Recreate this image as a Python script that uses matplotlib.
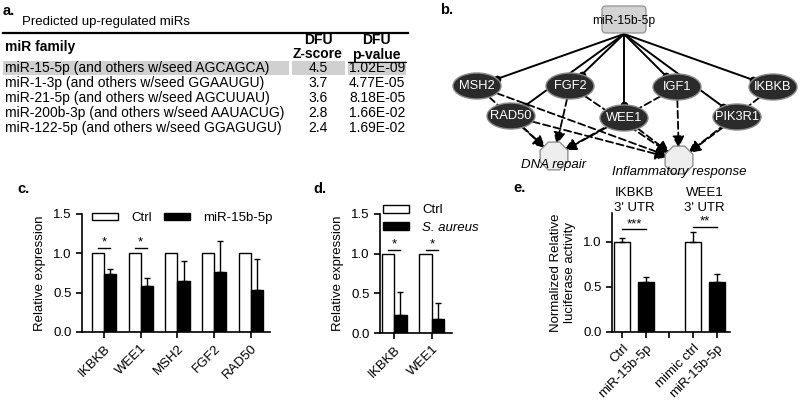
import numpy as np
import matplotlib
matplotlib.use("Agg")
import matplotlib.pyplot as plt
from matplotlib.patches import Ellipse, FancyBboxPatch, RegularPolygon, Rectangle, FancyArrowPatch

plt.rcParams['font.family'] = ['Liberation Sans', 'DejaVu Sans']

# panel a: table
mir_families = ['miR-15-5p (and others w/seed AGCAGCA)',
                'miR-1-3p (and others w/seed GGAAUGU)',
                'miR-21-5p (and others w/seed AGCUUAU)',
                'miR-200b-3p (and others w/seed AAUACUG)',
                'miR-122-5p (and others w/seed GGAGUGU)']
z_scores = ['4.5', '3.7', '3.6', '2.8', '2.4']
p_values = ['1.02E-09', '4.77E-05', '8.18E-05', '1.66E-02', '1.69E-02']

# panel b: network
mirna = 'miR-15b-5p'
targets = ['MSH2', 'FGF2', 'IGF1', 'IKBKB', 'RAD50', 'WEE1', 'PIK3R1']
processes = ['DNA repair', 'Inflammatory response']
edges = [('MSH2', 'DNA repair'), ('MSH2', 'Inflammatory response'),
         ('RAD50', 'DNA repair'), ('RAD50', 'Inflammatory response'),
         ('FGF2', 'DNA repair'), ('FGF2', 'Inflammatory response'),
         ('WEE1', 'DNA repair'), ('WEE1', 'Inflammatory response'),
         ('IGF1', 'DNA repair'), ('IGF1', 'Inflammatory response'),
         ('PIK3R1', 'Inflammatory response'), ('IKBKB', 'Inflammatory response')]

# panel c
c_genes = ['IKBKB', 'WEE1', 'MSH2', 'FGF2', 'RAD50']
c_ctrl = [1.0, 1.0, 1.0, 1.0, 1.0]
c_mir = [0.74, 0.59, 0.65, 0.76, 0.53]
c_mir_err = [0.06, 0.10, 0.25, 0.40, 0.40]
c_sig = ['*', '*', '', '', '']

# panel d
d_genes = ['IKBKB', 'WEE1']
d_ctrl = [1.0, 1.0]
d_aureus = [0.23, 0.18]
d_aureus_err = [0.29, 0.20]
d_sig = ['*', '*']

# panel e
e_labels = ['Ctrl', 'miR-15b-5p', '', 'mimic ctrl', 'miR-15b-5p']
e_values = [1.0, 0.56, np.nan, 1.0, 0.55]
e_err = [0.04, 0.05, np.nan, 0.11, 0.09]
e_is_ctrl = [True, False, False, True, False]
e_titles = ["IKBKB\n3' UTR", "WEE1\n3' UTR"]
e_sig = ['***', '**']

W, H = 800, 400
fig = plt.figure(figsize=(8, 4), dpi=100)
FS = 9.5


def fax(x0, y0, x1, y1):
    # axes from pixel box (top-left origin)
    return fig.add_axes([x0 / W, 1 - y1 / H, (x1 - x0) / W, (y1 - y0) / H])


# ---------- top half (table + network) in pixel coords ----------
top = fax(0, 0, 800, 185)
top.set_xlim(0, 800)
top.set_ylim(185, 0)
top.axis('off')

top.text(3, 11, 'a.', fontsize=10.5, fontweight='bold', va='center')
top.text(22, 22, 'Predicted up-regulated miRs', fontsize=FS, va='center')
top.plot([3, 408], [33, 33], color='black', lw=1.6)
top.text(5, 47, 'miR family', fontsize=10, fontweight='bold', va='center')
for cx, h1, h2 in [(318, 'DFU', 'Z-score'), (376, 'DFU', 'p-value')]:
    top.text(cx, 40, h1, fontsize=10, fontweight='bold', ha='center', va='center')
    top.text(cx, 54.5, h2, fontsize=10, fontweight='bold', ha='center', va='center')
top.plot([348, 406], [61.5, 61.5], color='black', lw=0.8)

row_y0, row_dy = 68, 15
for x0, x1 in [(3, 289), (292, 345), (348, 406)]:
    top.add_patch(Rectangle((x0, row_y0 - 7), x1 - x0, 14, facecolor='#d0d0d0', edgecolor='none'))
for i, (fam, z, p) in enumerate(zip(mir_families, z_scores, p_values)):
    y = row_y0 + i * row_dy
    top.text(5, y, fam, fontsize=10, va='center')
    top.text(318, y, z, fontsize=10, va='center', ha='center')
    top.text(377, y, p, fontsize=10, va='center', ha='center')

# network
top.text(440, 10, 'b.', fontsize=10.5, fontweight='bold', va='center')
src = (624, 20)
node_pos = {'MSH2': (477, 86), 'FGF2': (570, 86), 'IGF1': (677, 87), 'IKBKB': (773, 87),
            'RAD50': (511, 116), 'WEE1': (624, 118), 'PIK3R1': (737, 117)}
proc_pos = {'DNA repair': (554, 156), 'Inflammatory response': (679, 160)}
label_dy = {'DNA repair': 9, 'Inflammatory response': 12}
ew, eh = 48, 26


def ell_edge(c, p):
    dx, dy = p[0] - c[0], p[1] - c[1]
    t = 1 / np.sqrt((dx / (ew / 2)) ** 2 + (dy / (eh / 2)) ** 2)
    return (c[0] + t * dx, c[1] + t * dy)


for g in targets:
    c = node_pos[g]
    end = ell_edge(c, (src[0], 34))
    top.plot([src[0], end[0]], [34, end[1]], color='black', lw=1.4, zorder=2)
    top.plot(end[0], end[1], 'o', color='black', ms=4.5, zorder=2)

for g, pr in edges:
    c = node_pos[g]
    pc = proc_pos[pr]
    start = ell_edge(c, pc)
    d = np.array(pc) - np.array(start)
    end = np.array(pc) - d / np.linalg.norm(d) * 12
    arr = FancyArrowPatch(start, tuple(end), arrowstyle='-|>,head_length=7,head_width=3.5',
                          linestyle=(0, (4, 2)), color='black', lw=1.3, zorder=1,
                          shrinkA=0, shrinkB=0, mutation_scale=1)
    top.add_patch(arr)

for pr in processes:
    pc = proc_pos[pr]
    top.add_patch(RegularPolygon(pc, numVertices=8, radius=15, orientation=np.pi / 8,
                                 facecolor='#eeeeee', edgecolor='#909090', lw=1, zorder=3))
    top.text(pc[0], pc[1] + label_dy[pr], pr, fontsize=FS, style='italic',
             ha='center', va='center', zorder=4)

for g in targets:
    c = node_pos[g]
    top.add_patch(Ellipse(c, ew, eh, facecolor='#2b2b2b', edgecolor='#8a8a8a', lw=1, zorder=3))
    top.text(c[0], c[1], g, color='white', fontsize=9.3, ha='center', va='center', zorder=4)

top.add_patch(FancyBboxPatch((602, 6), 44, 27, boxstyle='round,pad=0,rounding_size=4',
                             facecolor='#d3d3d3', edgecolor='#9a9a9a', lw=1, zorder=3))
top.text(624, 21, mirna, fontsize=8.7, ha='center', va='center', zorder=4)


def style_ax(ax):
    for s in ['top', 'right']:
        ax.spines[s].set_visible(False)
    for s in ['left', 'bottom']:
        ax.spines[s].set_linewidth(1.2)
    ax.tick_params(direction='out', length=4, width=1.2, labelsize=FS)


def sig_line(ax, x0, x1, y, s):
    ax.plot([x0, x1], [y, y], color='black', lw=1)
    ax.text((x0 + x1) / 2, y - 0.01, s, ha='center', va='bottom', fontsize=FS)


# ---------- panel c ----------
bw = 0.33
ax = fax(82, 214, 270, 332)
x = np.arange(len(c_genes))
ax.bar(x - bw / 2, c_ctrl, bw, color='white', edgecolor='black', lw=1, label='Ctrl')
ax.bar(x + bw / 2, c_mir, bw, color='black', edgecolor='black', lw=1, label='miR-15b-5p')
ax.errorbar(x + bw / 2, c_mir, yerr=[np.zeros(len(c_mir)), c_mir_err], fmt='none',
            ecolor='black', elinewidth=1, capsize=2)
for i, s in enumerate(c_sig):
    if s:
        sig_line(ax, i - bw / 2, i + bw / 2, 1.07, s)
ax.set_xlim(-0.6, 4.52)
ax.set_ylim(0, 1.5)
ax.set_yticks([0, 0.5, 1.0, 1.5])
ax.set_xticks(x)
ax.set_xticklabels(c_genes, rotation=45, ha='right', rotation_mode='anchor')
ax.set_ylabel('Relative expression', fontsize=FS, labelpad=5)
style_ax(ax)
ax.legend(loc='center left', bbox_to_anchor=(0.053, 0.966), ncol=2, frameon=False,
          fontsize=FS, borderpad=0, borderaxespad=0, handlelength=2.0, handleheight=0.5,
          handletextpad=1.0, columnspacing=0.9)
fig.text(17 / W, 1 - 189 / H, 'c.', fontsize=10.5, fontweight='bold', va='center')

# ---------- panel d ----------
ax = fax(380, 214, 452, 333)
x = np.arange(len(d_genes))
ax.bar(x - bw / 2, d_ctrl, bw, color='white', edgecolor='black', lw=1, label='Ctrl')
ax.bar(x + bw / 2, d_aureus, bw, color='black', edgecolor='black', lw=1, label='S. aureus')
ax.errorbar(x + bw / 2, d_aureus, yerr=[np.zeros(len(d_aureus)), d_aureus_err], fmt='none',
            ecolor='black', elinewidth=1, capsize=2)
for i, s in enumerate(d_sig):
    sig_line(ax, i - bw / 2, i + bw / 2, 1.05, s)
ax.set_xlim(-0.37, 1.53)
ax.set_ylim(0, 1.5)
ax.set_yticks([0, 0.5, 1.0, 1.5])
ax.set_xticks(x)
ax.set_xticklabels(d_genes, rotation=45, ha='right', rotation_mode='anchor')
ax.set_ylabel('Relative expression', fontsize=FS, labelpad=5)
style_ax(ax)
leg = ax.legend(loc='upper left', bbox_to_anchor=(0.04, 1.08), frameon=False, fontsize=FS,
                borderpad=0, borderaxespad=0, handlelength=2.0, handleheight=0.5,
                handletextpad=1.0, labelspacing=0.4)
leg.get_texts()[1].set_style('italic')
fig.text(313 / W, 1 - 189 / H, 'd.', fontsize=10.5, fontweight='bold', va='center')

# ---------- panel e ----------
ax = fax(612, 213, 730, 332)
x = np.arange(len(e_labels))
ev = np.array(e_values)
ok = ~np.isnan(ev)
cols = ['white' if c else 'black' for c in e_is_ctrl]
ax.bar(x[ok], ev[ok], 0.68, color=[cols[i] for i in x[ok]], edgecolor='black', lw=1)
ax.errorbar(x[ok], ev[ok], yerr=[np.zeros(ok.sum()), np.array(e_err)[ok]], fmt='none',
            ecolor='black', elinewidth=1, capsize=2)
sig_line(ax, 0, 1, 1.14, e_sig[0])
sig_line(ax, 3, 4, 1.17, e_sig[1])
ax.text(0.5, 1.46, e_titles[0], ha='center', va='center', fontsize=FS, linespacing=1.35)
ax.text(3.5, 1.46, e_titles[1], ha='center', va='center', fontsize=FS, linespacing=1.35)
ax.set_xlim(-0.43, 4.57)
ax.set_ylim(0, 1.32)
ax.set_yticks([0, 0.5, 1.0])
ax.set_xticks(x)
ax.set_xticklabels(e_labels, rotation=45, ha='right', rotation_mode='anchor')
ax.set_ylabel('Normalized Relative\nluciferase activity', fontsize=FS, labelpad=5)
style_ax(ax)
fig.text(513 / W, 1 - 188 / H, 'e.', fontsize=10.5, fontweight='bold', va='center')

fig.savefig('out.png', dpi=100)
